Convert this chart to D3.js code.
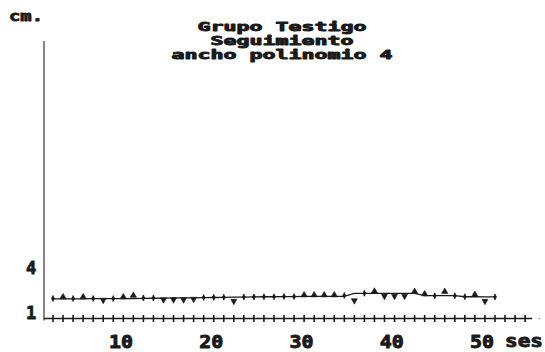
<!DOCTYPE html>
<html><head><meta charset="utf-8">
<script src="https://cdn.jsdelivr.net/npm/d3@7"></script>
<style>html,body{margin:0;padding:0;background:#fff;}svg{display:block;}</style>
</head><body>
<svg id="c" width="545" height="352"></svg>
<script>
// ---- data ----
const sessions = d3.range(1, 46);
const values = [2.33,2.47,2.33,2.47,2.33,2.20,2.33,2.47,2.57,2.37,
                2.37,2.23,2.23,2.23,2.27,2.40,2.41,2.42,2.13,2.43,
                2.44,2.45,2.45,2.46,2.46,2.60,2.60,2.60,2.60,2.53,
                2.17,2.68,2.85,2.47,2.47,2.47,2.83,2.67,2.51,2.83,
                2.51,2.45,2.63,2.13,2.43];
const fit = [2.31,2.31,2.31,2.31,2.32,2.32,2.32,2.33,2.33,2.34,
             2.35,2.36,2.37,2.37,2.38,2.39,2.40,2.41,2.42,2.43,
             2.44,2.45,2.45,2.46,2.46,2.47,2.47,2.48,2.48,2.48,
             2.67,2.68,2.68,2.68,2.68,2.68,2.68,2.52,2.52,2.52,
             2.52,2.45,2.45,2.44,2.44];
const xTickValues = d3.range(1, 49);
const xLabels = [10, 20, 30, 40, 50];
const yLabels = [1, 4];
const titleLines = ["Grupo Testigo", "Seguimiento", "ancho polinomio 4"];
const xUnit = "ses", yUnit = "cm.";

// ---- drawing ----
const svg = d3.select("#c");
const ink = "#1a1a1a";
const font = "'DejaVu Sans Mono', 'Liberation Mono', monospace";

const x = d3.scaleLinear().domain([0, 45]).range([42.95, 42.95 + 45 * 10.045]);
const xLab = d3.scaleLinear().domain([10, 50]).range([121, 482]);
const y = d3.scaleLinear().domain([1, 4]).range([318.5, 273.5]);

function heavy(sel, w) {
  return sel.attr("font-family", font).attr("font-weight", "bold")
    .attr("stroke", ink).attr("stroke-width", w).attr("stroke-linejoin", "round")
    .attr("fill", ink);
}

// y axis line
svg.append("line").attr("x1", 44).attr("x2", 44)
  .attr("y1", y(19.5)).attr("y2", y(1) + 2)
  .attr("stroke", "#333").attr("stroke-width", 1.2);

// x axis line
svg.append("line").attr("x1", 44).attr("x2", x(48.7))
  .attr("y1", y(1)).attr("y2", y(1))
  .attr("stroke", ink).attr("stroke-width", 1.4);
svg.append("circle").attr("cx", x(49.4)).attr("cy", y(1)).attr("r", 0.8).attr("fill", "#888");

// x ticks (crosses)
svg.append("g").selectAll("line").data(xTickValues).join("line")
  .attr("x1", d => x(d)).attr("x2", d => x(d))
  .attr("y1", y(1) - 3.5).attr("y2", y(1) + 3.5)
  .attr("stroke", ink).attr("stroke-width", 1.6);

// x labels
heavy(svg.append("g").selectAll("text").data(xLabels).join("text")
  .attr("x", d => xLab(d) - 12).attr("y", 348)
  .attr("textLength", 24).attr("lengthAdjust", "spacingAndGlyphs")
  .attr("font-size", 17), 0.9).text(d => d);
heavy(svg.append("text").attr("x", 505).attr("y", 347)
  .attr("textLength", 38).attr("lengthAdjust", "spacingAndGlyphs")
  .attr("font-size", 17), 0.9).text(xUnit);

// y labels
heavy(svg.append("g").selectAll("text").data(yLabels).join("text")
  .attr("x", 31).attr("y", d => y(d)).attr("text-anchor", "middle")
  .attr("font-size", 17), 0.8).text(d => d);
heavy(svg.append("text").attr("x", 9).attr("y", 21)
  .attr("textLength", 34).attr("lengthAdjust", "spacingAndGlyphs")
  .attr("font-size", 14), 0.8).text(yUnit);

// title
const titleY = [31, 45, 59];
heavy(svg.append("g").selectAll("text").data(titleLines).join("text")
  .attr("x", d => 282 - d.length * 13 / 2).attr("y", (d, i) => titleY[i])
  .attr("textLength", d => d.length * 13).attr("lengthAdjust", "spacingAndGlyphs")
  .attr("font-size", 12), 0.9).text(d => d);

// fit line
const pts = sessions.map((s, i) => ({s, v: values[i], f: fit[i]}));
svg.append("path").datum(pts)
  .attr("d", d3.line().x(d => x(d.s)).y(d => y(d.f)))
  .attr("fill", "none").attr("stroke", ink).attr("stroke-width", 1.3);

// markers
const g = svg.append("g").attr("fill", ink).attr("stroke", ink);
pts.forEach(d => {
  const r = d.v - d.f, cx = x(d.s), cy = y(d.v);
  if (r > 0.06) {
    g.append("path").attr("d", `M${cx},${cy-3}L${cx+3.2},${cy+2.4}L${cx-3.2},${cy+2.4}Z`).attr("stroke-width", 0.6);
  } else if (r < -0.06) {
    g.append("path").attr("d", `M${cx-3},${cy-2.2}L${cx+3},${cy-2.2}L${cx},${cy+3.2}Z`).attr("stroke-width", 0.6);
  } else {
    g.append("line").attr("x1", cx).attr("x2", cx).attr("y1", cy - 3).attr("y2", cy + 3).attr("stroke-width", 1.5);
    g.append("circle").attr("cx", cx).attr("cy", cy).attr("r", 1.8).attr("stroke", "none");
  }
});
</script>
</body></html>
